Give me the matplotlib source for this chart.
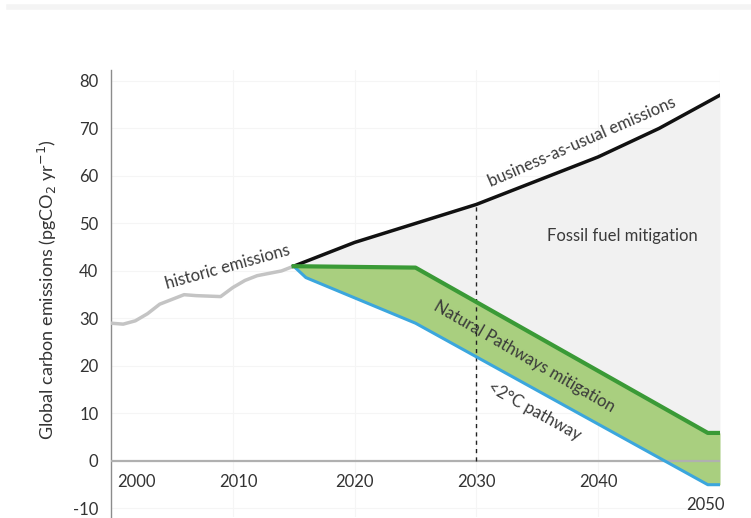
import matplotlib.pyplot as plt
from matplotlib.lines import Line2D
import numpy as np

plt.rcParams["font.family"] = ["Lato", "DejaVu Sans"]

# historic emissions 2000-2015
hist_years = [2000, 2001, 2002, 2003, 2004, 2005, 2006, 2007, 2008, 2009,
              2010, 2011, 2012, 2013, 2014, 2015]
hist_vals = [29.0, 28.8, 29.5, 31.0, 33.0, 34.0, 35.0, 34.8, 34.7, 34.6,
             36.5, 38.0, 39.0, 39.5, 40.0, 41.0]

# business as usual
bau_years = [2015, 2020, 2025, 2030, 2035, 2040, 2045, 2050]
bau_vals = [41.0, 46.0, 50.0, 54.0, 59.0, 64.0, 70.0, 77.0]

# natural pathways (upper edge of green band)
nat_years = [2015, 2025, 2049, 2050]
nat_vals = [41.0, 40.7, 5.9, 5.9]

# <2C pathway
two_years = [2015, 2016, 2025, 2049, 2050]
two_vals = [41.0, 38.6, 29.0, -5.0, -5.0]

x_ticks = [2000, 2010, 2020, 2030, 2040, 2050]
y_ticks = [-10, 0, 10, 20, 30, 40, 50, 60, 70, 80]

fig = plt.figure(figsize=(7.51, 5.18), dpi=100)
ax = fig.add_axes([0.1478, 0.0019, 0.8109, 0.863])

# common grid for the fills
grid = np.linspace(2015, 2050, 701)
bau_i = np.interp(grid, bau_years, bau_vals)
nat_i = np.interp(grid, nat_years, nat_vals)
two_i = np.interp(grid, two_years, two_vals)

ax.fill_between(grid, two_i, bau_i, color="#f1f1f1", lw=0, zorder=1)
ax.fill_between(grid, two_i, nat_i, color="#a9cf7f", lw=0, zorder=2)

ax.axhline(0, color="#b0b0b0", lw=1.6, zorder=3)
ax.vlines(2030, 0, np.interp(2030, bau_years, bau_vals), colors="#222222",
          linestyles=(0, (3, 3)), lw=1, zorder=4)

ax.plot(hist_years, hist_vals, color="#c4c4c4", lw=2.5, zorder=5,
        solid_capstyle="round")
ax.plot(bau_years, bau_vals, color="#111111", lw=2.5, zorder=6)
ax.plot(two_years, two_vals, color="#3ba6dd", lw=2.2, zorder=6)
ax.plot(nat_years, nat_vals, color="#3a9a36", lw=3.0, zorder=7)

ax.set_xlim(2000, 2050)
ax.set_ylim(-11.8, 82.3)
ax.set_xticks(x_ticks[1:])
ax.set_xticklabels([])
ax.set_yticks(y_ticks)
ax.set_yticklabels([str(v) for v in y_ticks], fontsize=12, color="#333333")
ax.tick_params(axis="both", length=0)
ax.tick_params(axis="y", pad=9)
ax.grid(True, color="#f5f5f5", lw=0.8, zorder=0)
ax.set_axisbelow(True)

for s in ["top", "right", "bottom"]:
    ax.spines[s].set_visible(False)
ax.spines["left"].set_color("#8c8c8c")
ax.spines["left"].set_linewidth(1.0)

# year labels sit inside the plot, under the zero line
for yr in x_ticks:
    xl, yl = yr, -4.4
    if yr == 2000:
        xl = 2002.1
    elif yr == 2010:
        xl = 2010.5
    elif yr == 2050:
        xl, yl = 2048.8, -9.2
    ax.text(xl, yl, str(yr), ha="center", va="center", fontsize=12,
            color="#333333")

txt = dict(ha="center", va="center", color="#3a3a3a", fontsize=12,
           rotation_mode="anchor")
ax.text(2009.6, 40.8, "historic emissions", rotation=15.5, **txt)
ax.text(2038.7, 67.2, "business-as-usual emissions", rotation=23.5, **txt)
ax.text(2042.0, 47.4, "Fossil fuel mitigation", rotation=0, **txt)
ax.text(2033.9, 21.9, "Natural Pathways mitigation", rotation=-30, **txt)
ax.text(2034.8, 10.5, "<2\u00b0C pathway", rotation=-29, **txt)

fig.text(47 / 751, 1 - 290 / 518,
         "Global carbon emissions (pgCO$_2$ yr$^{-1}$)",
         rotation=90, ha="center", va="center", fontsize=13, color="#333333")

# faint strip at the top of the page
fig.add_artist(Line2D([0.012, 1.0], [0.986, 0.986], color="#f4f4f4", lw=4))

fig.savefig("out.png", dpi=100)
